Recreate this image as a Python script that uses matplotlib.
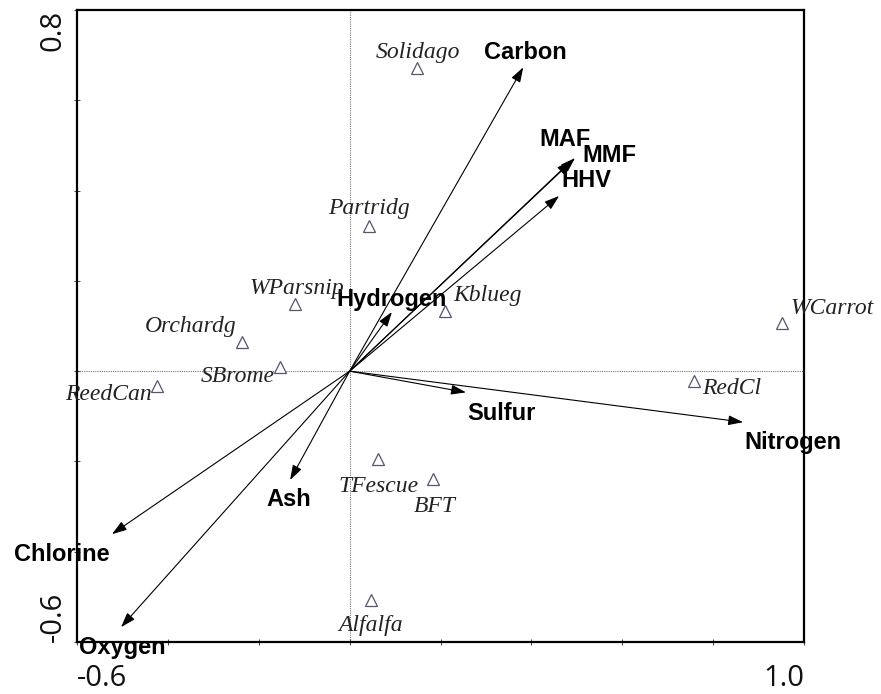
import numpy as np
import matplotlib
matplotlib.use('Agg')
import matplotlib.pyplot as plt

# species scores (triangles)
species = ['Solidago', 'Partridg', 'WParsnip', 'Kblueg', 'Orchardg', 'SBrome',
           'ReedCan', 'WCarrot', 'RedCl', 'TFescue', 'BFT', 'Alfalfa']
species_x = [0.148, 0.043, -0.120, 0.210, -0.237, -0.153,
             -0.424, 0.951, 0.758, 0.062, 0.184, 0.047]
species_y = [0.671, 0.321, 0.148, 0.133, 0.064, 0.009,
             -0.033, 0.106, -0.022, -0.195, -0.239, -0.507]

# environmental variables (arrows)
variables = ['Carbon', 'MAF', 'MMF', 'HHV', 'Hydrogen', 'Sulfur',
             'Nitrogen', 'Ash', 'Chlorine', 'Oxygen']
var_x = [0.382, 0.488, 0.496, 0.461, 0.093, 0.256, 0.866, -0.131, -0.523, -0.503]
var_y = [0.673, 0.466, 0.472, 0.388, 0.131, -0.047, -0.113, -0.241, -0.361, -0.567]

# label placement: (dx, dy in points, horizontal alignment)
species_lbl = {
    'Solidago': (0.7, 11.5, 'center'), 'Partridg': (0, 13, 'center'),
    'WParsnip': (1.4, 11.5, 'center'), 'Kblueg': (6, 11, 'left'),
    'Orchardg': (-4, 11.5, 'right'), 'SBrome': (-4, -7, 'right'),
    'ReedCan': (-4, -6, 'right'), 'WCarrot': (6, 11, 'left'),
    'RedCl': (6, -5, 'left'), 'TFescue': (0.7, -19.5, 'center'),
    'BFT': (1.4, -19.5, 'center'), 'Alfalfa': (0, -18, 'center'),
}
var_lbl = {
    'Carbon': (1.4, 11, 'center'), 'MAF': (-4.5, 15, 'center'),
    'MMF': (5.5, 2, 'left'), 'HHV': (1.4, 11, 'left'),
    'Hydrogen': (0, 9, 'center'), 'Sulfur': (0.7, -15, 'left'),
    'Nitrogen': (0.7, -15, 'left'), 'Ash': (-0.7, -14, 'center'),
    'Chlorine': (-2, -15, 'right'), 'Oxygen': (0.7, -15, 'center'),
}

fig = plt.figure(figsize=(8.81, 6.94), dpi=100)
ax = fig.add_axes([0.0874, 0.0749, 0.8252, 0.9107])
ax.set_xlim(-0.6, 1.0)
ax.set_ylim(-0.6, 0.8)

# dotted cross through the origin
ax.axhline(0, color='#777777', ls=(0, (1, 1)), lw=0.8, zorder=1)
ax.axvline(0, color='#777777', ls=(0, (1, 1)), lw=0.8, zorder=1)

for name, x, y in zip(variables, var_x, var_y):
    ax.annotate('', xy=(x, y), xytext=(0, 0),
                arrowprops=dict(arrowstyle='-|>,head_length=0.45,head_width=0.15',
                                mutation_scale=20, lw=0.8, color='black',
                                shrinkA=0, shrinkB=0), zorder=3)
    dx, dy, ha = var_lbl[name]
    ax.annotate(name, xy=(x, y), xytext=(dx, dy), textcoords='offset points',
                ha=ha, va='center', fontsize=17, fontweight='bold',
                family='Liberation Sans', annotation_clip=False, zorder=4)

ax.plot(species_x, species_y, ls='none', marker='^', ms=8, mfc='white',
        mec='#5a5270', mew=0.9, zorder=2)
for name, x, y in zip(species, species_x, species_y):
    dx, dy, ha = species_lbl[name]
    ax.annotate(name, xy=(x, y), xytext=(dx, dy), textcoords='offset points',
                ha=ha, va='center', fontsize=17, style='italic',
                family='Liberation Serif', color='#222222',
                annotation_clip=False, zorder=4)

for s in ax.spines.values():
    s.set_linewidth(1.6)

# unlabelled ticks every 0.2, only the end values are written
ax.set_xticks(np.arange(-0.6, 1.01, 0.2))
ax.set_yticks(np.arange(-0.6, 0.81, 0.2))
ax.set_xticklabels([])
ax.set_yticklabels([])
ax.tick_params(direction='inout', length=5, width=0.7, color='#444444')

tick_font = dict(family='Open Sans', fontsize=21, color='#111111')
ax.text(-0.6, -0.648, '-0.6', ha='left', va='top', **tick_font)
ax.text(1.0, -0.648, '1.0', ha='right', va='top', **tick_font)
ax.text(-0.621, -0.6, '-0.6', ha='right', va='bottom', rotation=90, **tick_font)
ax.text(-0.621, 0.8, '0.8', ha='right', va='top', rotation=90, **tick_font)

fig.savefig('out.png', dpi=100)
